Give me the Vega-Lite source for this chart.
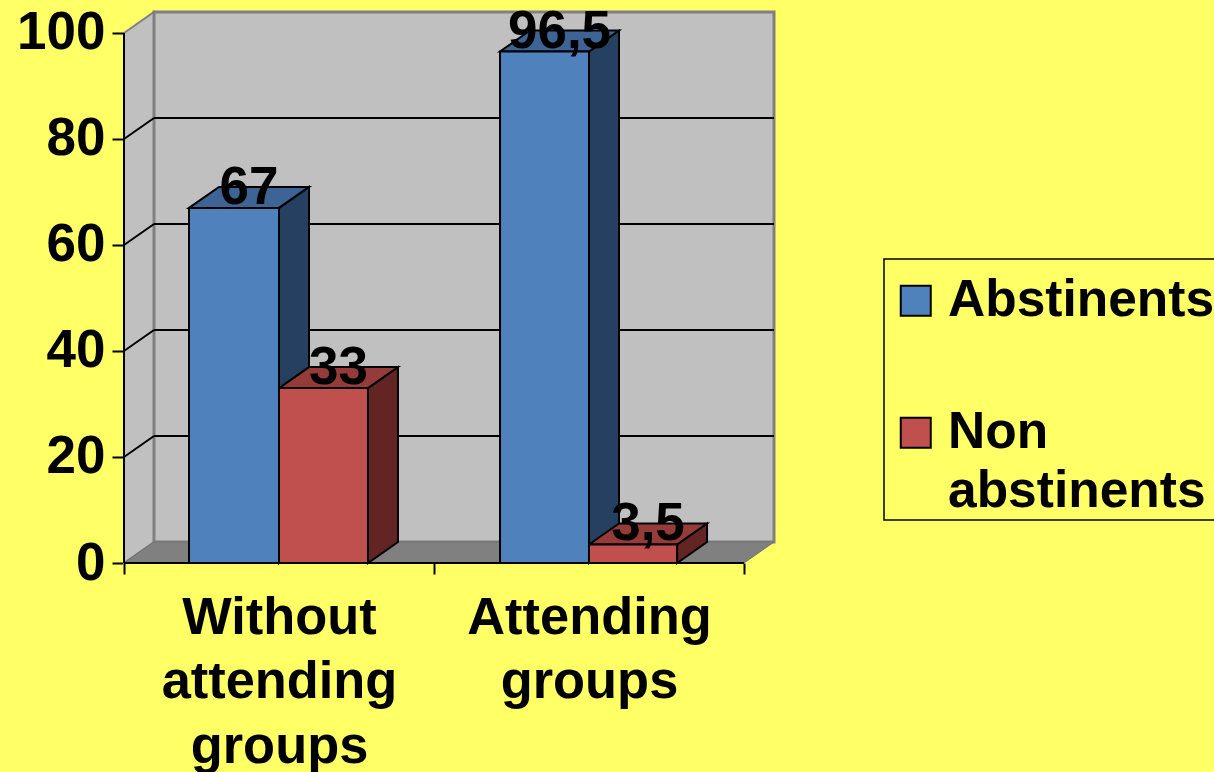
{
"$schema":"https://vega.github.io/schema/vega-lite/v6.json",
"width":650,"height":551,
"autosize":{"type":"none"},
"padding":{"left":124,"top":12,"right":440,"bottom":209},
"background":"#FFFF66",
"view":{"stroke":null},
"config":{"font":"Liberation Sans"},
"datasets":{
"bars":[
{"group":"Without attending groups","series":"Abstinents","value":67,"label":"67","from":0.2097,"to":0.5,"mid":0.3549},
{"group":"Without attending groups","series":"Non abstinents","value":33,"label":"33","from":0.5,"to":0.787,"mid":0.6435},
{"group":"Attending groups","series":"Abstinents","value":96.5,"label":"96,5","from":1.213,"to":1.5,"mid":1.3565},
{"group":"Attending groups","series":"Non abstinents","value":3.5,"label":"3,5","from":1.5,"to":1.784,"mid":1.642}
],
"faces":[
{"face":"a1 side","part":"Abstinents side","x":0.5,"top":67,"bottom":0},
{"face":"a1 side","part":"Abstinents side","x":0.5968,"top":70.96,"bottom":3.96},
{"face":"a1 top","part":"Abstinents top","x":0.2097,"top":67,"bottom":67},
{"face":"a1 top","part":"Abstinents top","x":0.3065,"top":70.96,"bottom":67},
{"face":"a1 top","part":"Abstinents top","x":0.5,"top":70.96,"bottom":67},
{"face":"a1 top","part":"Abstinents top","x":0.5968,"top":70.96,"bottom":70.96},
{"face":"n1 side","part":"Non abstinents side","x":0.787,"top":33,"bottom":0},
{"face":"n1 side","part":"Non abstinents side","x":0.8838,"top":36.96,"bottom":3.96},
{"face":"n1 top","part":"Non abstinents top","x":0.5,"top":33,"bottom":33},
{"face":"n1 top","part":"Non abstinents top","x":0.5968,"top":36.96,"bottom":33},
{"face":"n1 top","part":"Non abstinents top","x":0.787,"top":36.96,"bottom":33},
{"face":"n1 top","part":"Non abstinents top","x":0.8838,"top":36.96,"bottom":36.96},
{"face":"a2 side","part":"Abstinents side","x":1.5,"top":96.5,"bottom":0},
{"face":"a2 side","part":"Abstinents side","x":1.5968,"top":100.46,"bottom":3.96},
{"face":"a2 top","part":"Abstinents top","x":1.213,"top":96.5,"bottom":96.5},
{"face":"a2 top","part":"Abstinents top","x":1.3098,"top":100.46,"bottom":96.5},
{"face":"a2 top","part":"Abstinents top","x":1.5,"top":100.46,"bottom":96.5},
{"face":"a2 top","part":"Abstinents top","x":1.5968,"top":100.46,"bottom":100.46},
{"face":"n2 side","part":"Non abstinents side","x":1.784,"top":3.5,"bottom":0},
{"face":"n2 side","part":"Non abstinents side","x":1.8808,"top":7.46,"bottom":3.96},
{"face":"n2 top","part":"Non abstinents top","x":1.5,"top":3.5,"bottom":3.5},
{"face":"n2 top","part":"Non abstinents top","x":1.5968,"top":7.46,"bottom":3.5},
{"face":"n2 top","part":"Non abstinents top","x":1.784,"top":7.46,"bottom":3.5},
{"face":"n2 top","part":"Non abstinents top","x":1.8808,"top":7.46,"bottom":7.46}
],
"walls":[
{"wall":"left","x":0,"top":100,"bottom":0},
{"wall":"left","x":0.0968,"top":103.96,"bottom":3.96}
],
"backwall":[{"x":0.0968,"x2":2.0968,"y":3.96,"y2":103.96}],
"floor":[
{"x":0,"top":0,"bottom":0},
{"x":0.0968,"top":3.96,"bottom":0},
{"x":2,"top":3.96,"bottom":0},
{"x":2.0968,"top":3.96,"bottom":3.96}
],
"grid":[
{"x":0.0968,"x2":2.0968,"y":23.96,"y2":23.96},
{"x":0.0968,"x2":2.0968,"y":43.96,"y2":43.96},
{"x":0.0968,"x2":2.0968,"y":63.96,"y2":63.96},
{"x":0.0968,"x2":2.0968,"y":83.96,"y2":83.96},
{"x":0,"x2":0.0968,"y":20,"y2":23.96},
{"x":0,"x2":0.0968,"y":40,"y2":43.96},
{"x":0,"x2":0.0968,"y":60,"y2":63.96},
{"x":0,"x2":0.0968,"y":80,"y2":83.96}
],
"edges":[
{"x":0,"x2":0,"y":0,"y2":100},
{"x":0,"x2":2,"y":0,"y2":0}
]
},
"layer":[
{"data":{"name":"walls"},
 "mark":{"type":"area","orient":"vertical","fill":"#C0C0C0","stroke":"#808080","strokeWidth":2},
 "encoding":{
  "x":{"field":"x","type":"quantitative","title":null,"scale":{"domain":[0,2.0968],"nice":false,"zero":false},
   "axis":{"values":[0,0.5,1,1.5,2],"domain":false,"grid":false,"tickSize":11,"tickWidth":2,"tickColor":"black",
    "tickOpacity":{"condition":{"test":"datum.value%1!=0","value":0},"value":1},
    "labelExpr":"datum.value==0.5?['Without','attending','groups']:datum.value==1.5?['Attending','groups']:''",
    "labelFont":"Liberation Sans","labelFontWeight":"bold","labelFontSize":52.4,"labelColor":"black","labelLineHeight":64.5,"labelPadding":18,"labelLimit":500,"labelOverlap":false,"labelBound":false,"labelFlush":false,"labelBaseline":"top","labelAngle":0}},
  "y":{"field":"top","type":"quantitative","title":null,"scale":{"domain":[0,103.96],"nice":false,"zero":false},
   "axis":{"values":[0,20,40,60,80,100],"domain":false,"grid":false,"tickSize":12,"tickWidth":2,"tickColor":"black",
    "labelFont":"Liberation Sans","labelFontWeight":"bold","labelFontSize":53,"labelColor":"black","labelPadding":7,"labelOverlap":false,"labelBound":false,"labelFlush":false}},
  "y2":{"field":"bottom"}
 }},
{"data":{"name":"backwall"},
 "mark":{"type":"rect","fill":"#C0C0C0","stroke":"#808080","strokeWidth":3},
 "encoding":{"x":{"field":"x","type":"quantitative"},"x2":{"field":"x2"},"y":{"field":"y","type":"quantitative"},"y2":{"field":"y2"}}},
{"data":{"name":"floor"},
 "mark":{"type":"area","orient":"vertical","fill":"#808080","stroke":"#707070","strokeWidth":1},
 "encoding":{"x":{"field":"x","type":"quantitative"},"y":{"field":"top","type":"quantitative"},"y2":{"field":"bottom"}}},
{"data":{"name":"grid"},
 "mark":{"type":"rule","color":"black","strokeWidth":2},
 "encoding":{"x":{"field":"x","type":"quantitative"},"x2":{"field":"x2"},"y":{"field":"y","type":"quantitative"},"y2":{"field":"y2"}}},
{"data":{"name":"edges"},
 "mark":{"type":"rule","color":"black","strokeWidth":2},
 "encoding":{"x":{"field":"x","type":"quantitative"},"x2":{"field":"x2"},"y":{"field":"y","type":"quantitative"},"y2":{"field":"y2"}}},
{"data":{"name":"faces"},
 "mark":{"type":"area","orient":"vertical","stroke":"black","strokeWidth":2,"opacity":1},
 "encoding":{"x":{"field":"x","type":"quantitative"},"y":{"field":"top","type":"quantitative"},"y2":{"field":"bottom"},
  "detail":{"field":"face"},
  "color":{"field":"part","type":"nominal"}}},
{"data":{"name":"bars"},
 "mark":{"type":"rect","stroke":"black","strokeWidth":2},
 "encoding":{"x":{"field":"from","type":"quantitative"},"x2":{"field":"to"},"y":{"field":"value","type":"quantitative"},"y2":{"datum":0},
  "color":{"field":"series","type":"nominal",
   "scale":{"domain":["Abstinents","Non abstinents","Abstinents side","Non abstinents side","Abstinents top","Non abstinents top"],
    "range":["#4F81BD","#C0504D","#254061","#632523","#3D6494","#953B39"]},
   "legend":{"orient":"none","legendX":760,"legendY":247,"title":" ","titleFontSize":1,"titlePadding":13,"values":["Abstinents","Non abstinents"],
    "labelExpr":"datum.label=='Non abstinents'?['Non','abstinents']:datum.label",
    "symbolType":"square","symbolSize":900,"symbolStrokeColor":"black","symbolStrokeWidth":2,"symbolOpacity":1,"symbolOffset":4,
    "labelFont":"Liberation Sans","labelFontWeight":"bold","labelFontSize":51.5,"labelColor":"black","labelOffset":6.5,"labelLimit":400,
    "rowPadding":79,"padding":2,"strokeColor":"black","fillColor":"#FFFF66",
    "encoding":{"labels":{"lineHeight":{"value":59}},"legend":{"strokeWidth":{"value":1.5}}}}}}},
{"data":{"name":"bars"},
 "mark":{"type":"text","font":"Liberation Sans","fontWeight":"bold","fontSize":53,"color":"black","dx":15,"dy":-20,"baseline":"middle"},
 "encoding":{"x":{"field":"mid","type":"quantitative"},"y":{"field":"value","type":"quantitative"},"text":{"field":"label"}}}
]
}
